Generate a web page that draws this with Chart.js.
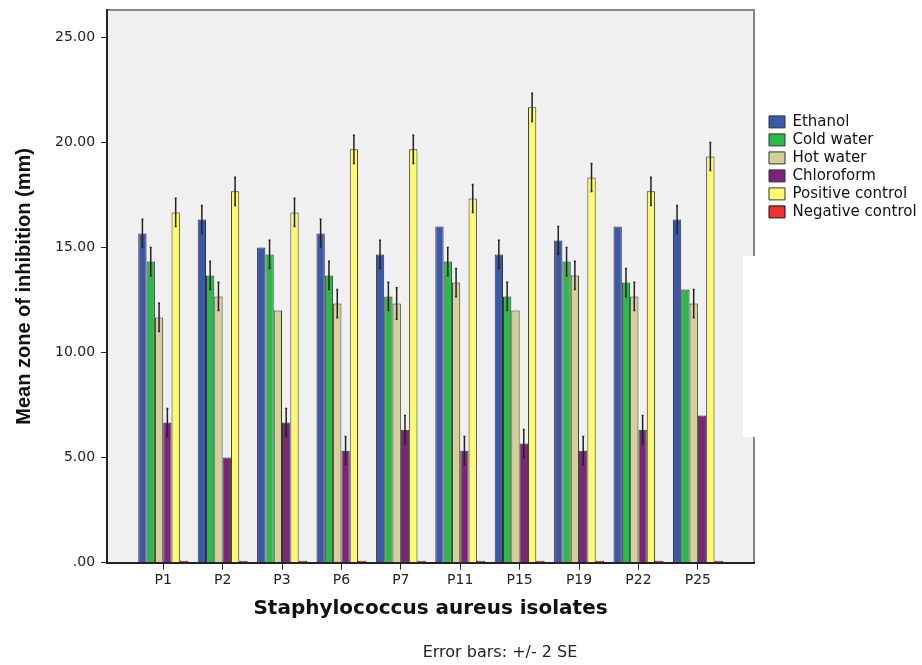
<!DOCTYPE html>
<html>
<head>
<meta charset="utf-8">
<script src="https://cdn.jsdelivr.net/npm/chart.js@4/dist/chart.umd.min.js"></script>
<style>
  html, body { margin: 0; padding: 0; background: #fff; }
  #wrap { width: 922px; height: 665px; }
</style>
</head>
<body>
<div id="wrap"><canvas id="chart"></canvas></div>
<script>
// isolates on the x axis
const categories = ['P1', 'P2', 'P3', 'P6', 'P7', 'P11', 'P15', 'P19', 'P22', 'P25'];

// mean zone of inhibition (mm) per extract
const ethanol = [15.67, 16.33, 15.00, 15.67, 14.67, 16.00, 14.67, 15.33, 16.00, 16.33];
const coldWater = [14.33, 13.67, 14.67, 13.67, 12.67, 14.33, 12.67, 14.33, 13.33, 13.00];
const hotWater = [11.67, 12.67, 12.00, 12.33, 12.33, 13.33, 12.00, 13.67, 12.67, 12.33];
const chloroform = [6.67, 5.00, 6.67, 5.33, 6.33, 5.33, 5.67, 5.33, 6.33, 7.00];
const positiveControl = [16.67, 17.67, 16.67, 19.67, 19.67, 17.33, 21.67, 18.33, 17.67, 19.33];
const negativeControl = [0, 0, 0, 0, 0, 0, 0, 0, 0, 0];

// error bars: +/- 2 SE
const ethanolErr = [0.67, 0.67, 0, 0.67, 0.67, 0, 0.67, 0.67, 0, 0.67];
const coldWaterErr = [0.67, 0.67, 0.67, 0.67, 0.67, 0.67, 0.67, 0.67, 0.67, 0];
const hotWaterErr = [0.67, 0.67, 0, 0.67, 0.75, 0.67, 0, 0.67, 0.67, 0.67];
const chloroformErr = [0.67, 0, 0.67, 0.67, 0.67, 0.67, 0.67, 0.67, 0.67, 0];
const positiveErr = [0.67, 0.67, 0.67, 0.67, 0.67, 0.67, 0.67, 0.67, 0.67, 0.67];
const negativeErr = [0, 0, 0, 0, 0, 0, 0, 0, 0, 0];

const yTicks = [0, 5, 10, 15, 20, 25];

Chart.defaults.font.family = '"DejaVu Sans", sans-serif';
Chart.defaults.color = '#222';

function makeSet(label, values, errors, color) {
    return {
        label: label,
        data: values.map((v, i) => ({ x: i, y: v })),
        errors: errors,
        backgroundColor: color,
        borderColor: '#333',
        borderWidth: 1
    };
}

const datasets = [
    makeSet('Ethanol', ethanol, ethanolErr, '#3c58aa'),
    makeSet('Cold water', coldWater, coldWaterErr, '#2eb84c'),
    makeSet('Hot water', hotWater, hotWaterErr, '#d5d09a'),
    makeSet('Chloroform', chloroform, chloroformErr, '#7b2478'),
    makeSet('Positive control', positiveControl, positiveErr, '#fdfa6e'),
    makeSet('Negative control', negativeControl, negativeErr, '#ef3232')
];
// zero bars still show as a black dash on the axis
datasets[5].minBarLength = 2;
datasets[5].borderColor = '#111';

// grey plot background and frame
const plotFrame = {
    id: 'plotFrame',
    beforeDraw(chart) {
        const { ctx, chartArea: a } = chart;
        ctx.save();
        ctx.fillStyle = '#f0f0f0';
        ctx.fillRect(a.left, a.top, a.right - a.left, a.bottom - a.top);
        ctx.strokeStyle = '#888';
        ctx.lineWidth = 2;
        ctx.beginPath();
        ctx.moveTo(a.left, a.top);
        ctx.lineTo(a.right, a.top);
        ctx.lineTo(a.right, a.bottom);
        ctx.stroke();
        ctx.restore();
    },
    afterDraw(chart) {
        const { ctx, chartArea: a } = chart;
        ctx.save();
        // white patch over the right edge, as in the original picture
        ctx.fillStyle = '#fff';
        ctx.fillRect(a.right - 11, 256, 30, 181);
        // footnote
        ctx.fillStyle = '#222';
        ctx.font = '16px "DejaVu Sans"';
        ctx.textAlign = 'center';
        ctx.textBaseline = 'middle';
        ctx.fillText('Error bars: +/- 2 SE', 500, 653);
        ctx.restore();
    }
};

// vertical error bars centred on each bar
const errorBars = {
    id: 'errorBars',
    afterDatasetsDraw(chart) {
        const { ctx } = chart;
        const y = chart.scales.y;
        ctx.save();
        ctx.strokeStyle = '#222';
        ctx.lineWidth = 1.5;
        chart.data.datasets.forEach((ds, i) => {
            const meta = chart.getDatasetMeta(i);
            meta.data.forEach((bar, j) => {
                const err = ds.errors[j];
                if (!err) return;
                const v = ds.data[j].y;
                const top = y.getPixelForValue(v + err);
                const bottom = y.getPixelForValue(v - err);
                ctx.beginPath();
                ctx.moveTo(bar.x, top);
                ctx.lineTo(bar.x, bottom);
                ctx.moveTo(bar.x - 1, top);
                ctx.lineTo(bar.x + 1, top);
                ctx.moveTo(bar.x - 1, bottom);
                ctx.lineTo(bar.x + 1, bottom);
                ctx.stroke();
            });
        });
        ctx.restore();
    }
};

new Chart(document.getElementById('chart'), {
    type: 'bar',
    data: { datasets: datasets },
    options: {
        responsive: true,
        maintainAspectRatio: false,
        animation: false,
        layout: { padding: { left: 4, right: 0, top: 10, bottom: 25 } },
        datasets: { bar: { categoryPercentage: 0.84, barPercentage: 1.0 } },
        scales: {
            x: {
                type: 'linear',
                offset: false,
                min: -0.945,
                max: categories.length - 1 + 0.945,
                afterBuildTicks: (scale) => {
                    scale.ticks = categories.map((c, i) => ({ value: i }));
                },
                ticks: {
                    callback: (v) => categories[v],
                    font: { size: 14 },
                    padding: 2.5,
                    maxRotation: 0
                },
                grid: { offset: false, drawOnChartArea: false, color: '#222', tickLength: 7 },
                border: { color: '#222', width: 2 },
                title: {
                    display: true,
                    text: 'Staphylococcus aureus isolates',
                    font: { size: 20, weight: 'bold' },
                    color: '#111',
                    padding: { top: 5.5, bottom: 19 }
                }
            },
            y: {
                min: 0,
                max: 26.3,
                afterBuildTicks: (scale) => {
                    scale.ticks = yTicks.map(v => ({ value: v }));
                },
                // top label sits well inside the plot, no extra room needed
                afterFit: (scale) => { scale.paddingTop = 0; },
                ticks: {
                    callback: (v) => v === 0 ? '.00' : v.toFixed(2),
                    font: { size: 14 },
                    padding: 6
                },
                grid: { drawOnChartArea: false, color: '#222', tickLength: 6 },
                border: { color: '#222', width: 2 },
                title: {
                    display: true,
                    text: 'Mean zone of inhibition (mm)',
                    font: { family: '"Liberation Sans", Arial', size: 20, weight: 'bold' },
                    color: '#111',
                    padding: { top: 8, bottom: 13 }
                }
            },
            // spacer between plot frame and legend
            gap: {
                type: 'linear',
                position: 'right',
                display: true,
                afterFit: (scale) => { scale.width = 12; },
                ticks: { display: false },
                grid: { display: false },
                border: { display: false }
            }
        },
        plugins: {
            legend: {
                position: 'right',
                align: 'start',
                maxWidth: 156,
                title: { display: true, text: '', font: { size: 12 }, padding: { top: 87, bottom: 0 } },
                labels: {
                    boxWidth: 16,
                    boxHeight: 12,
                    padding: 3,
                    color: '#111',
                    font: { size: 15 }
                }
            },
            tooltip: { enabled: false }
        }
    },
    plugins: [plotFrame, errorBars]
});
</script>
</body>
</html>
